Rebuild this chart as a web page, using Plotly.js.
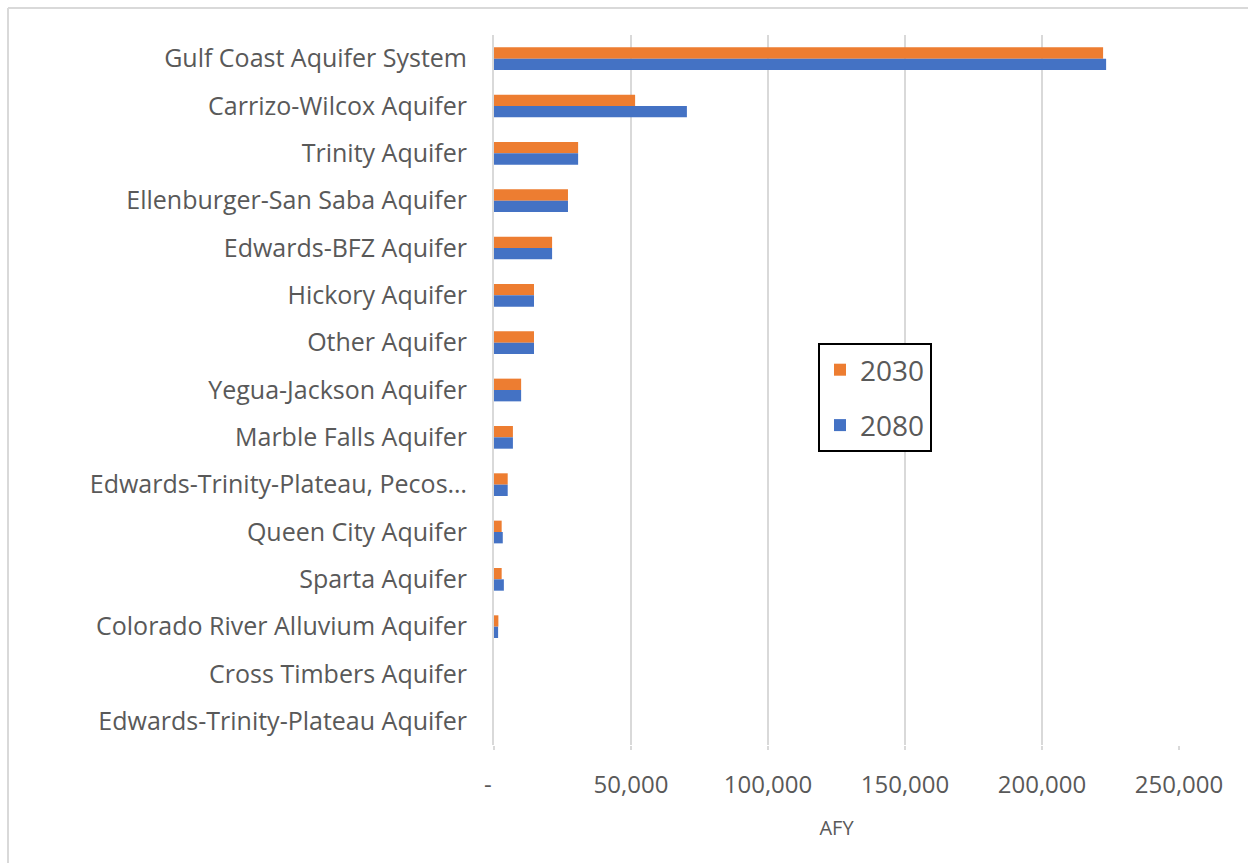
<!DOCTYPE html>
<html>
<head>
<meta charset="utf-8">
<script src="https://cdn.plot.ly/plotly-3.0.1.min.js"></script>
<style>html,body{margin:0;padding:0;background:#fff;}#chart{width:1248px;height:863px;}</style>
</head>
<body>
<div id="chart"></div>
<script>
const categories = [
  "Gulf Coast Aquifer System",
  "Carrizo-Wilcox Aquifer",
  "Trinity Aquifer",
  "Ellenburger-San Saba Aquifer",
  "Edwards-BFZ Aquifer",
  "Hickory Aquifer",
  "Other Aquifer",
  "Yegua-Jackson Aquifer",
  "Marble Falls Aquifer",
  "Edwards-Trinity-Plateau, Pecos…",
  "Queen City Aquifer",
  "Sparta Aquifer",
  "Colorado River Alluvium Aquifer",
  "Cross Timbers Aquifer",
  "Edwards-Trinity-Plateau Aquifer"
];
const values2030 = [222300, 51500, 30700, 27000, 21200, 14600, 14600, 9900, 6900, 5000, 2800, 2800, 1600, 0, 0];
const values2080 = [223400, 70400, 30700, 27000, 21200, 14600, 14600, 9900, 6900, 5000, 3200, 3600, 1500, 0, 0];
const tickValues = [0, 50000, 100000, 150000, 200000, 250000];
const tickLabels = ["-\u00a0\u00a0", "50,000", "100,000", "150,000", "200,000", "250,000"];

const fontFamily = "Open Sans, Noto Sans, sans-serif";
const textColor = "#595959";

const traces = [
  {
    type: "bar", orientation: "h", name: "2030",
    y: categories, x: values2030,
    marker: {color: "#ED7D31"},
    legendgroup: "a", hoverinfo: "x+y"
  },
  {
    type: "bar", orientation: "h", name: "2080",
    y: categories, x: values2080,
    marker: {color: "#4472C4"},
    legendgroup: "b", hoverinfo: "x+y"
  }
];

const L = 494, R = 1179, T = 35, B = 745;
const W = 1248, H = 863;
const px = v => (v - L) / (R - L);
const py = v => (B - v) / (B - T);

const layout = {
  width: W, height: H,
  margin: {l: L, r: W - R, t: T, b: H - B, pad: 0},
  paper_bgcolor: "#ffffff",
  plot_bgcolor: "#ffffff",
  barmode: "group",
  bargap: 0.52,
  bargroupgap: 0,
  font: {family: fontFamily, color: textColor},
  xaxis: {
    range: [0, 250000],
    tickvals: tickValues,
    ticktext: tickLabels,
    tickfont: {size: 24, color: textColor, family: fontFamily},
    showgrid: true,
    gridcolor: "#d9d9d9",
    gridwidth: 2,
    zeroline: false,
    showline: false,
    ticks: "outside",
    ticklen: 4,
    tickwidth: 2,
    tickcolor: "#d9d9d9",
    ticklabelstandoff: 14,
    title: {text: "AFY", font: {size: 20, color: textColor, family: fontFamily}, standoff: 22},
    fixedrange: true
  },
  yaxis: {
    type: "category",
    autorange: "reversed",
    tickfont: {size: 25, color: textColor, family: fontFamily},
    showgrid: false,
    zeroline: false,
    showline: true,
    linecolor: "#d9d9d9",
    linewidth: 2,
    ticks: "",
    ticklabelstandoff: 20,
    fixedrange: true
  },
  legend: {
    x: px(818), y: py(343),
    xanchor: "left", yanchor: "top",
    bordercolor: "#000000",
    borderwidth: 2,
    bgcolor: "#ffffff",
    font: {size: 28, color: textColor, family: fontFamily},
    traceorder: "grouped",
    tracegroupgap: 16,
    itemwidth: 30
  },
  shapes: [
    {type: "line", xref: "paper", yref: "paper", x0: px(8), x1: px(1260), y0: py(8), y1: py(8), line: {color: "#d9d9d9", width: 2}},
    {type: "line", xref: "paper", yref: "paper", x0: px(8), x1: px(8), y0: py(8), y1: py(880), line: {color: "#d9d9d9", width: 2}}
  ],
  showlegend: true
};

Plotly.newPlot("chart", traces, layout, {displayModeBar: false, staticPlot: true});
</script>
</body>
</html>
